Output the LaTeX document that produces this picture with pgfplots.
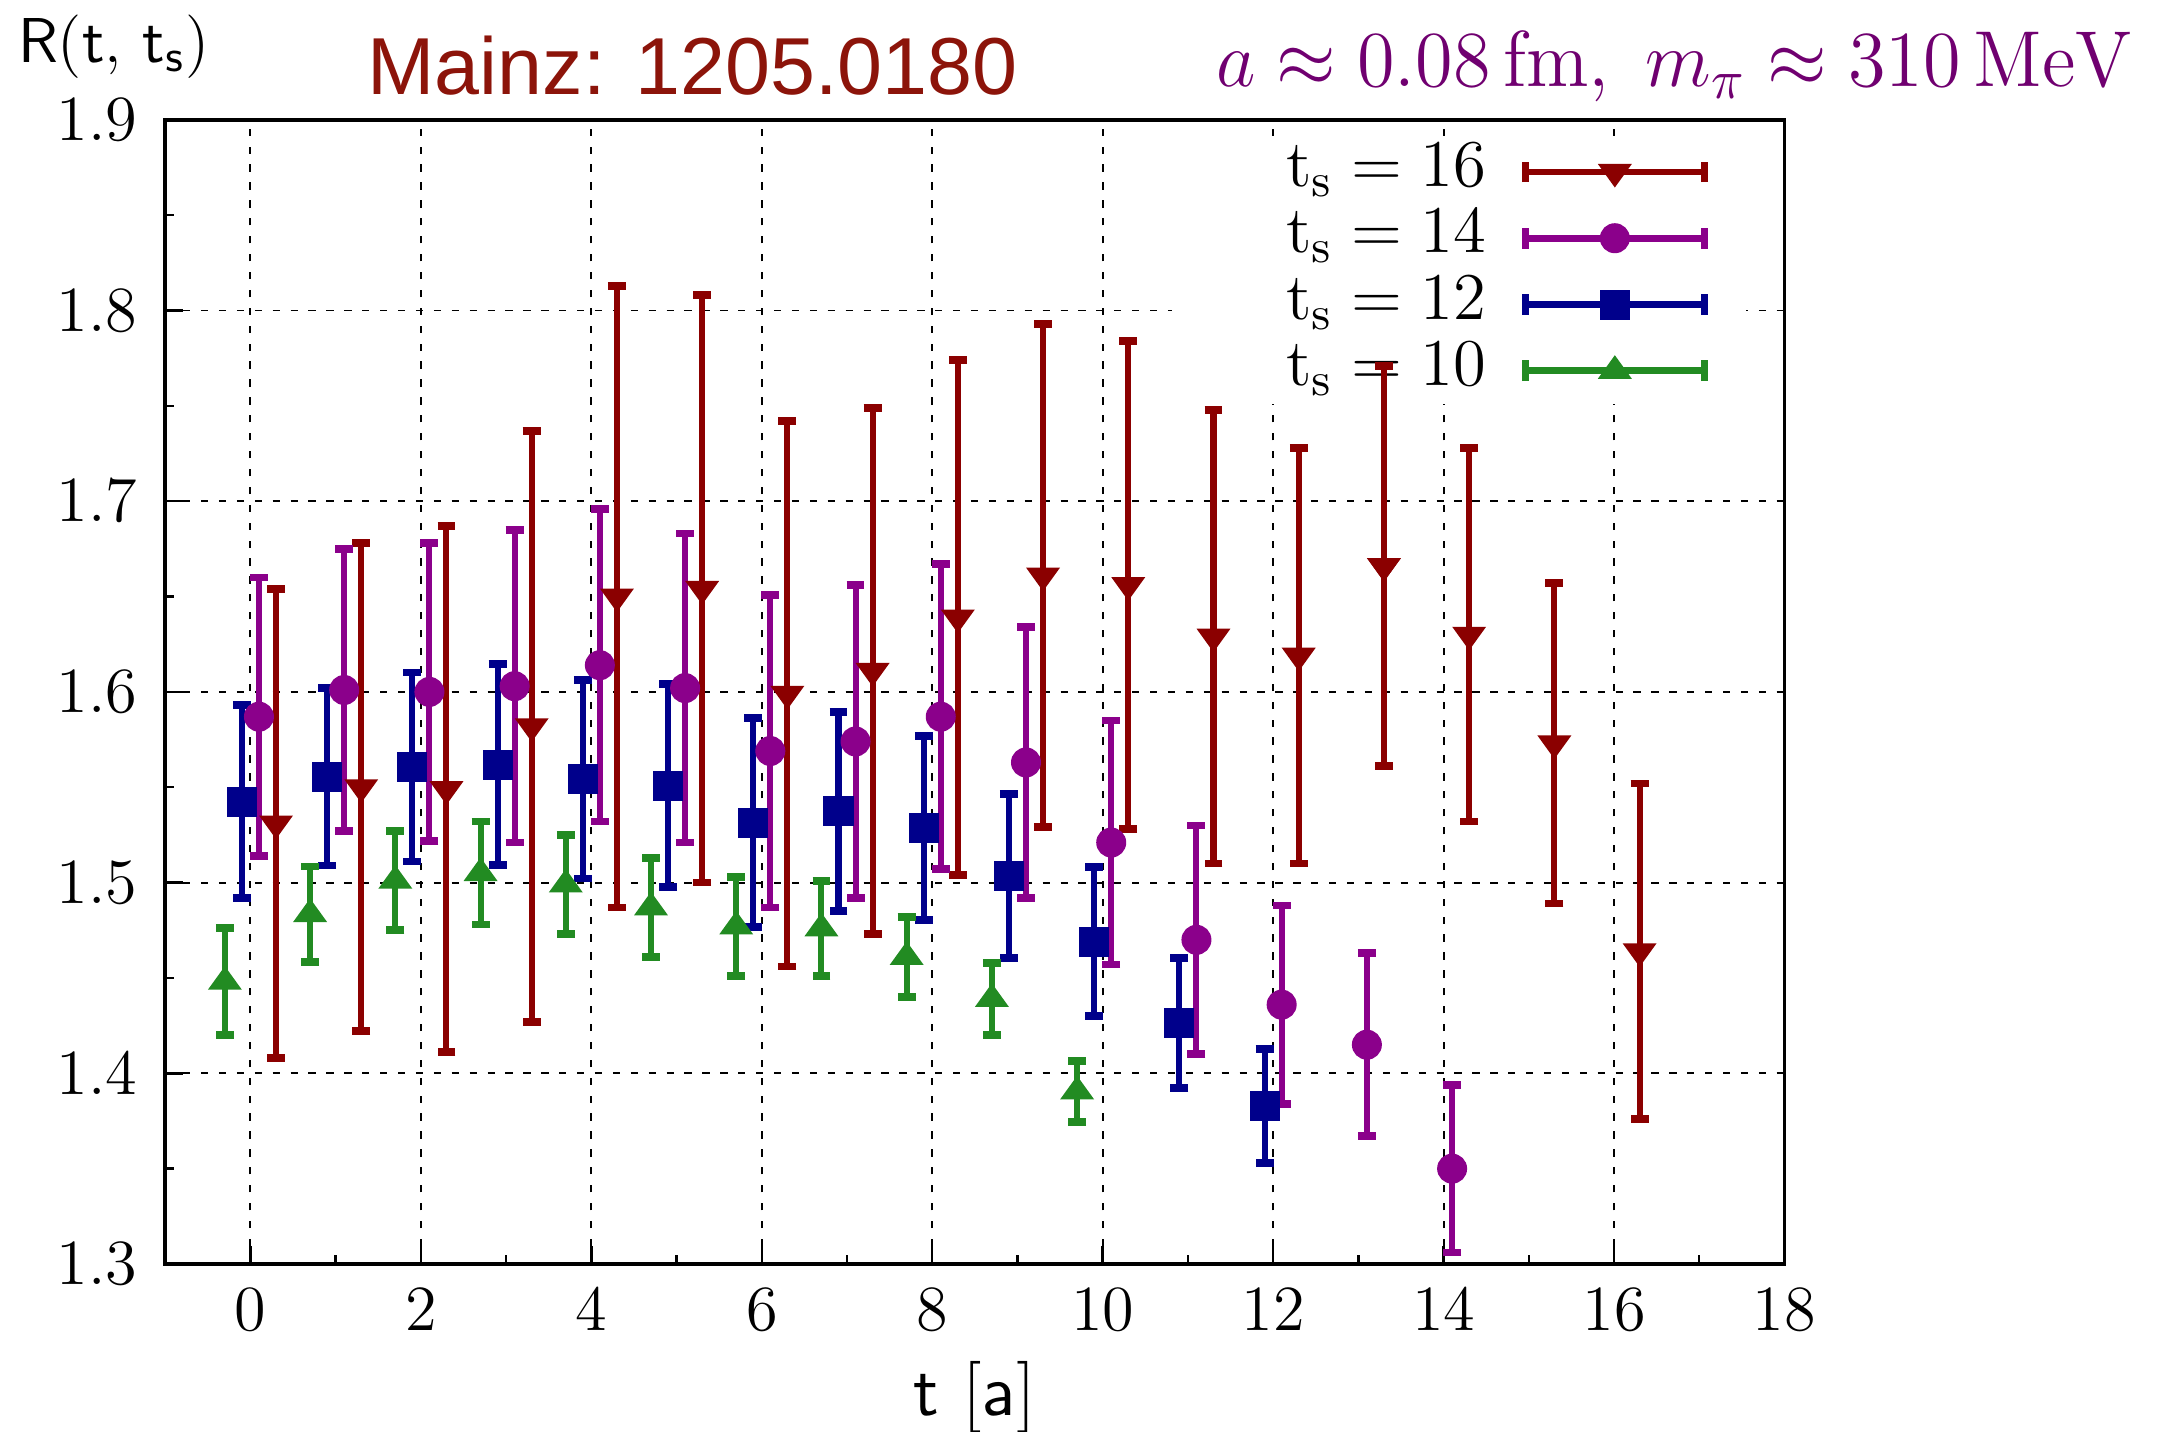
\RequirePackage{fix-cm}
\documentclass[border=0pt]{standalone}
\usepackage[no-math]{fontspec}
\usepackage{pgfplots}
\pgfplotsset{compat=1.18}
\newfontfamily\helv{Liberation Sans}
\definecolor{c16}{RGB}{139,0,0}
\definecolor{c14}{RGB}{139,0,139}
\definecolor{c12}{RGB}{0,0,139}
\definecolor{c10}{RGB}{34,139,34}
\definecolor{titlered}{RGB}{140,20,10}
\definecolor{txtpurple}{RGB}{112,0,112}

\pgfplotstableread{
x y e
0.3 1.531 0.123
1.3 1.550 0.128
2.3 1.549 0.138
3.3 1.582 0.155
4.3 1.650 0.163
5.3 1.654 0.154
6.3 1.599 0.143
7.3 1.611 0.138
8.3 1.639 0.135
9.3 1.661 0.132
10.3 1.656 0.128
11.3 1.629 0.119
12.3 1.619 0.109
13.3 1.666 0.105
14.3 1.630 0.098
15.3 1.573 0.084
16.3 1.464 0.088
}\tsixteen
\pgfplotstableread{
x y e
13.3 1.666 0.105
}\tsixteenover
\pgfplotstableread{
x y e
0.1 1.587 0.073
1.1 1.601 0.074
2.1 1.600 0.078
3.1 1.603 0.082
4.1 1.614 0.082
5.1 1.602 0.081
6.1 1.569 0.082
7.1 1.574 0.082
8.1 1.587 0.080
9.1 1.563 0.071
10.1 1.521 0.064
11.1 1.470 0.060
12.1 1.436 0.052
13.1 1.415 0.048
14.1 1.350 0.044
}\tfourteen
\pgfplotstableread{
x y e
-0.1 1.5425 0.0505
0.9 1.5555 0.0466
1.9 1.5606 0.0496
2.9 1.5618 0.0527
3.9 1.5543 0.0521
4.9 1.5509 0.0534
5.9 1.5315 0.0548
6.9 1.5374 0.0521
7.9 1.5287 0.0483
8.9 1.5035 0.0429
9.9 1.469 0.039
10.9 1.4263 0.0341
11.9 1.3828 0.030
}\ttwelve
\pgfplotstableread{
x y e
-0.3 1.448 0.028
0.7 1.4835 0.025
1.7 1.501 0.026
2.7 1.505 0.027
3.7 1.499 0.026
4.7 1.487 0.026
5.7 1.477 0.026
6.7 1.476 0.025
7.7 1.461 0.021
8.7 1.439 0.019
9.7 1.3905 0.016
}\tten

\pgfplotsset{
  ebar/.style={
    error bars/y dir=both, error bars/y explicit,
    error bars/error bar style={line width=1.25pt, solid},
    error bars/error mark options={rotate=90, line width=1.6pt, mark size=0.065cm},
  },
  ebleg/.style={legend image code/.code={
    \draw[mark=none,line width=1.4pt,solid] (0cm,0cm) -- (1.3cm,0cm);
    \draw[mark=none,line width=1.4pt,solid] (0cm,-0.075cm) -- (0cm,0.075cm);
    \draw[mark=none,line width=1.4pt,solid] (1.3cm,-0.075cm) -- (1.3cm,0.075cm);
    \draw[solid] plot coordinates {(0.65cm,0cm)};}},
  common/.style={
    at={(0,0)}, anchor=south west,
    scale only axis, width=11.76cm, height=8.31cm,
    xmin=-1, xmax=18, ymin=1.3, ymax=1.9,
  },
}

\begin{document}
\begin{tikzpicture}
\path[use as bounding box] (-1.20cm,-1.22cm) rectangle (14.48cm,9.18cm);
\begin{axis}[
  common,
  xtick={0,2,4,6,8,10,12,14,16,18},
  ytick={1.3,1.4,1.5,1.6,1.7,1.8,1.9},
  minor x tick num=1, minor y tick num=1,
  tick pos=left, tick align=inside,
  major tick length=0.13cm, minor tick length=0.065cm,
  grid=major,
  major grid style={black, line width=0.4pt, dash pattern=on 1.5pt off 2.2pt},
  axis line style={line width=0.8pt},
  every tick/.style={black, line width=0.5pt},
  tick label style={font=\fontsize{13.3}{15}\selectfont},
  xticklabel style={yshift=-0.06cm},
  yticklabel style={xshift=-0.08cm, /pgf/number format/.cd, fixed, fixed zerofill, precision=1},
  xlabel={$\mathsf{t\ [a]}$},
  xlabel style={at={(axis description cs:0.5,-0.1324)}, anchor=base, inner sep=0pt, font=\fontsize{14.9}{17}\selectfont},
  ylabel={$\mathsf{R(t,\,t_s)}$},
  ylabel style={rotate=-90, at={(axis description cs:-0.0915,1.0505)}, anchor=base west, inner sep=0pt, font=\fontsize{13.1}{16}\selectfont},
  legend style={at={(axis description cs:0.977,0.984)}, anchor=north east, fill=white, draw=none,
    inner xsep=0.28cm, inner ysep=0.01cm, column sep=0.26cm, row sep=0.7pt,
    font=\fontsize{13.8}{16}\selectfont,
    nodes={inner sep=0pt, text height=9.5pt, text depth=3.5pt, text width=2.0cm, align=flush right}},
  legend plot pos=right,
  extra description/.code={
    \node[anchor=base, inner sep=0pt, text=titlered, font=\helv\fontsize{16.7}{20}\selectfont] at (axis description cs:0.3257,1.0217) {Mainz: 1205.0180};
    \node[anchor=base east, inner sep=0pt, text=txtpurple, font=\fontsize{16.4}{20}\selectfont] at (axis description cs:1.2157,1.0289) {\scalebox{0.965}[1]{$a \approx 0.08\,\mathrm{fm},\ m_\pi \approx 310\,\mathrm{MeV}$}};
  },
]
\addplot[only marks, color=c16, mark=triangle*, mark size=3.6pt, mark options={solid, fill=c16, rotate=180, yscale=0.8}, ebar, ebleg]
  table[x=x, y=y, y error=e] {\tsixteen};
\addlegendentry{$\mathrm{t_s} = 16$}
\addplot[only marks, color=c14, mark=*, mark size=2.9pt, mark options={solid, fill=c14}, ebar, ebleg]
  table[x=x, y=y, y error=e] {\tfourteen};
\addlegendentry{$\mathrm{t_s} = 14$}
\addplot[only marks, color=c12, mark=square*, mark size=2.9pt, mark options={solid, fill=c12}, ebar, ebleg]
  table[x=x, y=y, y error=e] {\ttwelve};
\addlegendentry{$\mathrm{t_s} = 12$}
\addplot[only marks, color=c10, mark=triangle*, mark size=3.6pt, mark options={solid, fill=c10, yscale=0.8}, ebar, ebleg]
  table[x=x, y=y, y error=e] {\tten};
\addlegendentry{$\mathrm{t_s} = 10$}
\end{axis}
\begin{axis}[common, hide axis]
\addplot[only marks, color=c16, mark=triangle*, mark size=3.6pt, mark options={solid, fill=c16, rotate=180, yscale=0.8}, ebar]
  table[x=x, y=y, y error=e] {\tsixteenover};
\end{axis}
\end{tikzpicture}
\end{document}
